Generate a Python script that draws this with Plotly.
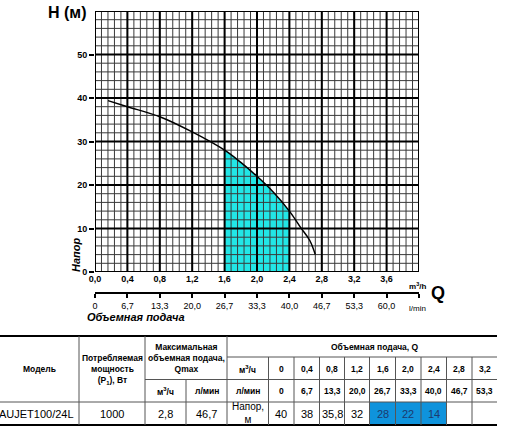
import numpy as np
import plotly.graph_objects as go

W, H = 512, 441
FONT = "Liberation Sans, Arial, sans-serif"

# ---------------- data ----------------
# pump curve (Q in m3/h, H in m)
curve_q = [0.16, 0.4, 0.8, 1.2, 1.6, 1.8, 2.0, 2.2, 2.4, 2.54, 2.65, 2.72]
curve_h = [39.4, 38.0, 35.7, 32.2, 28.0, 25.2, 22.0, 18.4, 14.0, 10.2, 7.3, 4.0]
# working range (shaded)
work_min, work_max = 1.6, 2.4

# axis ticks
q_ticks = [0.0, 0.4, 0.8, 1.2, 1.6, 2.0, 2.4, 2.8, 3.2, 3.6]
q_ticktext = ["0,0", "0,4", "0,8", "1,2", "1,6", "2,0", "2,4", "2,8", "3,2", "3,6"]
lmin_ticks = [0.0, 0.4, 0.8, 1.2, 1.6, 2.0, 2.4, 2.8, 3.2, 3.6, 4.0]
lmin_ticktext = ["0", "6,7", "13,3", "20,0", "26,7", "33,3", "40,0", "46,7", "53,3", "60,0", " "]
h_ticks = [0, 10, 20, 30, 40, 50]

# table
model = "AUJET100/24L"
power = "1000"
qmax_m3h = "2,8"
qmax_lmin = "46,7"
tab_q_m3h = ["0", "0,4", "0,8", "1,2", "1,6", "2,0", "2,4", "2,8", "3,2"]
tab_q_val = [0.0, 0.4, 0.8, 1.2, 1.6, 2.0, 2.4, 2.8, 3.2]
tab_q_lmin = ["0", "6,7", "13,3", "20,0", "26,7", "33,3", "40,0", "46,7", "53,3"]
tab_head = ["40", "38", "35,8", "32", "28", "22", "14", "", ""]

X_MAX, Y_MAX = 4.0, 60.0

# ---------------- layout helpers ----------------
def px(x):
    return x / W

def py(y):
    return 1 - y / H

fig = go.Figure()

# shaded working area: fill under the same spline, then mask outside the working range
fig.add_trace(go.Scatter(x=curve_q, y=curve_h, mode="lines", fill="tozeroy",
                         fillcolor="#22E6E6",
                         line=dict(width=0, shape="spline", smoothing=1),
                         hoverinfo="skip", showlegend=False))
for a, b in [(0, work_min), (work_max, X_MAX)]:
    fig.add_trace(go.Scatter(x=[a, b, b, a, a], y=[0, 0, Y_MAX, Y_MAX, 0], mode="lines",
                             fill="toself", fillcolor="white", line=dict(width=0),
                             hoverinfo="skip", showlegend=False))

def grid_trace(vals, vertical, color, width):
    xs, ys = [], []
    for v in vals:
        if vertical:
            xs += [v, v, None]
            ys += [0, Y_MAX, None]
        else:
            xs += [0, X_MAX, None]
            ys += [v, v, None]
    return go.Scatter(x=xs, y=ys, mode="lines", line=dict(color=color, width=width),
                      hoverinfo="skip", showlegend=False)

minor_x = np.linspace(0, X_MAX, 51)
minor_y = np.linspace(0, Y_MAX, 31)
major_x = np.linspace(0, X_MAX, 11)
major_y = np.linspace(0, Y_MAX, 7)
fig.add_trace(grid_trace(minor_x, True, "#3a3a3a", 1))
fig.add_trace(grid_trace(minor_y, False, "#3a3a3a", 1))
fig.add_trace(grid_trace(major_x, True, "#000000", 2))
fig.add_trace(grid_trace(major_y, False, "#000000", 2))

# pump curve
fig.add_trace(go.Scatter(x=curve_q, y=curve_h, mode="lines",
                         line=dict(color="#000000", width=1.5, shape="spline", smoothing=1),
                         hoverinfo="skip", showlegend=False))

# invisible trace on the l/min axis
fig.add_trace(go.Scatter(x=tab_q_val, y=[0] * len(tab_q_val), xaxis="x2", yaxis="y",
                         mode="markers", marker=dict(opacity=0), hoverinfo="skip",
                         showlegend=False))

plot_l, plot_r, plot_t, plot_b = 95, 419, 11, 272

fig.update_layout(
    width=W, height=H,
    margin=dict(l=0, r=0, t=0, b=0),
    paper_bgcolor="white", plot_bgcolor="white",
    font=dict(family=FONT, color="black"),
    xaxis=dict(domain=[px(plot_l), px(plot_r)], range=[0, X_MAX],
               tickvals=q_ticks, ticktext=q_ticktext, ticks="", showgrid=False,
               zeroline=False, showline=False,
               tickfont=dict(size=9, weight="bold", family=FONT), automargin=False),
    xaxis2=dict(overlaying="x", anchor="free", position=py(293), side="bottom",
                range=[0, X_MAX], tickvals=lmin_ticks, ticktext=lmin_ticktext,
                ticks="outside", ticklen=4, tickwidth=1.5, tickcolor="black",
                showline=True, linewidth=2, linecolor="black", showgrid=False,
                zeroline=False, tickfont=dict(size=9, family=FONT), automargin=False),
    yaxis=dict(domain=[py(plot_b), py(plot_t)], range=[0, Y_MAX],
               tickvals=h_ticks, ticks="outside", ticklen=5, tickwidth=2,
               tickcolor="black", showgrid=False, zeroline=False, showline=False,
               tickfont=dict(size=9, weight="bold", family=FONT), automargin=False),
)

ann = []

def text(x, y, s, size, bold=False, italic=False, xanchor="center", color="black", angle=0):
    if not s:
        return
    ann.append(dict(x=px(x), y=py(y), xref="paper", yref="paper", text=s,
                    showarrow=False, xanchor=xanchor, yanchor="middle", textangle=angle,
                    font=dict(size=size, family=FONT, color=color,
                              weight="bold" if bold else "normal",
                              style="italic" if italic else "normal")))

# chart labels
text(89, 13, "H (м)", 16, bold=True, xanchor="right")
text(76, 255, "Напор", 11, bold=True, italic=True, angle=-90)
text(417, 286, "m<sup>3</sup>/h", 8, bold=True)
text(438, 293, "Q", 18, bold=True)
text(417, 308, "l/min", 8)
text(136, 317, "Объемная подача", 11, bold=True, italic=True)

# ---------------- table ----------------
shapes = []

def hline(x0, x1, y, color="#555555", width=1):
    shapes.append(dict(type="line", xref="paper", yref="paper", x0=px(x0), x1=px(x1),
                       y0=py(y), y1=py(y), line=dict(color=color, width=width)))

def vline(x, y0, y1, color="#555555", width=1):
    shapes.append(dict(type="line", xref="paper", yref="paper", x0=px(x), x1=px(x),
                       y0=py(y0), y1=py(y1), line=dict(color=color, width=width)))

t_top, r1, r2, r3, t_bot = 336, 357, 379.5, 402, 425
t_right = 497
col_model, col_power, col_qmax1, col_qmax2, col_lab = 0, 79, 145, 186, 227
val_cols = [268.5, 294, 319.5, 344.5, 369.5, 395.5, 421, 446.5, 472, 497]

# highlighted cells
for i, q in enumerate(tab_q_val):
    if work_min <= q <= work_max:
        shapes.append(dict(type="rect", xref="paper", yref="paper",
                           x0=px(val_cols[i]), x1=px(val_cols[i + 1]),
                           y0=py(r3), y1=py(t_bot), fillcolor="#0F93DC",
                           line=dict(width=0), layer="below"))

hline(0, t_right, t_top, "black", 2)
hline(col_lab, t_right, r1)
hline(col_qmax1, t_right, r2)
hline(0, t_right, r3)
hline(0, t_right, t_bot, "black", 2)
vline(col_power, t_top, t_bot)
vline(col_qmax1, t_top, t_bot)
vline(col_qmax2, r2, t_bot)
vline(col_lab, t_top, t_bot)
for xv in val_cols[:-1]:
    vline(xv, r1, t_bot)

hs = 8.5
text(39.5, 369, "Модель", hs, bold=True)
text(112, 369.5, "Потребляемая<br>мощность<br>(P<sub>1</sub>), Вт", hs, bold=True)
text(186, 357.5, "Максимальная<br>объемная подача,<br>Qmax", hs, bold=True)
text(165.5, 391, "м<sup>3</sup>/ч", hs, bold=True)
text(206.5, 391, "л/мин", hs, bold=True)
text(247.5, 369, "м<sup>3</sup>/ч", hs, bold=True)
text(247.5, 391, "л/мин", hs, bold=True)
text(375, 347, "Объемная подача, Q", hs, bold=True)

text(36, 414, model, 11)
text(112, 414, power, 11)
text(165.5, 414, qmax_m3h, 11)
text(206.5, 414, qmax_lmin, 11)
text(247.5, 413, "Напор,<br>м", 10)

for i in range(len(tab_q_m3h)):
    cx = (val_cols[i] + val_cols[i + 1]) / 2
    text(cx, 369, tab_q_m3h[i], hs, bold=True)
    text(cx, 391, tab_q_lmin[i], hs, bold=True)
    hl = work_min <= tab_q_val[i] <= work_max
    text(cx, 414, tab_head[i], 11, color="#1d3a6e" if hl else "black")

fig.update_layout(annotations=ann, shapes=shapes)

fig.write_html("out.html", config={"displayModeBar": False},
               post_script="document.body.style.margin='0px';document.body.style.overflow='hidden';")
